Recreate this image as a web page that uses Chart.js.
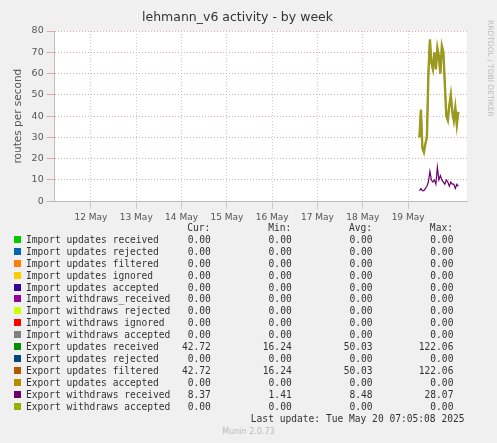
<!DOCTYPE html><html><head><script src="https://cdn.jsdelivr.net/npm/chart.js@4"></script>
<style>body{margin:0;background:#f0f0f0;width:497px;height:443px;font-family:"DejaVu Sans Mono",monospace;position:relative;overflow:hidden}
#w{position:absolute;left:0;top:0;width:497px;height:226px}
#leg{position:absolute;left:14px;top:222px;font-size:9.6px;color:#333;line-height:11.9px;white-space:pre}
.sq{display:inline-block;width:7px;height:7px;margin-right:5px;vertical-align:0}
#side{position:absolute;right:2px;top:20px;writing-mode:vertical-rl;font-family:"DejaVu Sans";font-size:7.5px;color:#bbb}
#ver{position:absolute;left:0;width:497px;top:427px;text-align:center;font-family:"DejaVu Sans";font-size:8px;color:#bbb}
</style></head><body>
<div id="w"><canvas id="c"></canvas></div><div id="side">RRDTOOL / TOBI OETIKER</div>
<div id="leg"></div><div id="ver">Munin 2.0.73</div>
<script>
const dayLabels=["12 May","13 May","14 May","15 May","16 May","17 May","18 May","19 May"];
const filtered=[30,43,25,23,27,30,60,76,65,62,70,62,72,68,60,73,70,55,40,38,45,50,42,38,44,36,42];
const withdrawals=[5,6,5,5,6,7,9,14,10,9,10,8,16,10,12,10,9,8,10,9,7,9,8,8,6,8,7];
const names=["Import updates received","Import updates rejected","Import updates filtered","Import updates ignored","Import updates accepted","Import withdraws_received","Import withdraws rejected","Import withdraws ignored","Import withdraws accepted","Export updates received","Export updates rejected","Export updates filtered","Export updates accepted","Export withdraws received","Export withdraws accepted"];
const colors=["#00cc00","#0066b3","#ff8000","#ffcc00","#330099","#990099","#ccff00","#ff0000","#808080","#008f00","#00487d","#b35a00","#b38f00","#6b006b","#8fb300"];
const cur=["0.00","0.00","0.00","0.00","0.00","0.00","0.00","0.00","0.00","42.72","0.00","42.72","0.00","8.37","0.00"];
const mins=["0.00","0.00","0.00","0.00","0.00","0.00","0.00","0.00","0.00","16.24","0.00","16.24","0.00","1.41","0.00"];
const avgs=["0.00","0.00","0.00","0.00","0.00","0.00","0.00","0.00","0.00","50.03","0.00","50.03","0.00","8.48","0.00"];
const maxs=["0.00","0.00","0.00","0.00","0.00","0.00","0.00","0.00","0.00","122.06","0.00","122.06","0.00","28.07","0.00"];
const start=7.25,step=0.033;
const pts=a=>a.map((v,i)=>({x:start+i*step,y:v}));
const ds=(d,c,w)=>({data:pts(d),borderColor:c,borderWidth:w,pointRadius:0,tension:0});
const bg={id:'bg',beforeDraw(c){const a=c.chartArea,x=c.ctx;x.save();x.fillStyle='#fff';x.fillRect(a.left,a.top,a.right-a.left,a.bottom-a.top);x.restore();}};
new Chart(document.getElementById('c'),{type:'line',data:{datasets:[ds(filtered,'#9a9a20',2.4),ds(filtered,'#c06a00',1.4),ds(withdrawals,'#6b006b',1.2)]},plugins:[bg],
options:{animation:false,responsive:true,maintainAspectRatio:false,
layout:{padding:{top:0,right:30,left:8,bottom:0}},
plugins:{legend:{display:false},title:{display:true,text:'lehmann_v6 activity - by week',color:'#333',font:{family:'DejaVu Sans',size:12.5,weight:'normal'},padding:{top:10,bottom:6}}},
scales:{x:{type:'linear',min:-0.8,max:8.3,afterBuildTicks:s=>{s.ticks=dayLabels.map((_,i)=>({value:i}));},
ticks:{callback:v=>dayLabels[v],color:'#555',font:{family:'DejaVu Sans',size:9},maxRotation:0},grid:{color:'#ccc'},border:{color:'#bbb',dash:[1,2]}},
y:{min:0,max:80,ticks:{stepSize:10,color:'#555',font:{family:'DejaVu Sans',size:9.5}},grid:{color:'#e0a8a8'},border:{color:'#bbb',dash:[1,2]},
title:{display:true,text:'routes per second',color:'#555',font:{family:'DejaVu Sans',size:10.5}}}}}});
const p=(s,n)=>s.padStart(n);
let h=' '.repeat(28)+p('Cur:',6)+p('Min:',14)+p('Avg:',14)+p('Max:',14)+'\n';
names.forEach((n,i)=>{h+='<span class="sq" style="background:'+colors[i]+'"></span>'+n.padEnd(26)+p(cur[i],6)+p(mins[i],14)+p(avgs[i],14)+p(maxs[i],14)+'\n';});
h+=p('Last update: Tue May 20 07:05:08 2025',78);
document.getElementById('leg').innerHTML=h;
</script></body></html>
